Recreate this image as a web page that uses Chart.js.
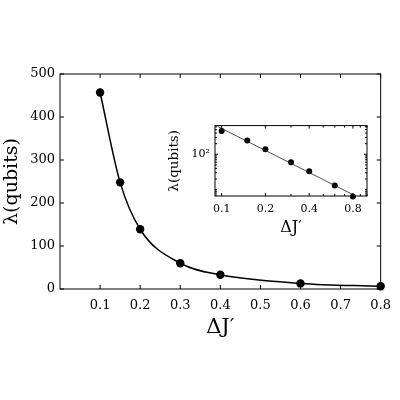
<!DOCTYPE html>
<html>
<head>
<meta charset="utf-8">
<script src="https://cdn.jsdelivr.net/npm/chart.js@4.4.1/dist/chart.umd.min.js"></script>
<style>
  html, body { margin: 0; padding: 0; background: #fff; }
  #wrap { position: relative; width: 400px; height: 400px; }
  #main { position: absolute; left: 0; top: 0; }
  #inset { position: absolute; left: 160px; top: 114px; }
</style>
</head>
<body>
<div id="wrap">
  <canvas id="main" width="400" height="400"></canvas>
  <canvas id="inset" width="215" height="130"></canvas>
</div>
<script>
// Datos
const deltaJ = [0.1, 0.15, 0.2, 0.3, 0.4, 0.6, 0.8];
const lambdaQubits = [457, 248, 139, 60, 33, 13, 6.4];

// Recta de ajuste del inset (log-log), extremos
const fitX = [0.094, 0.83];
const fitY = [614, 6.7];

// Ticks
const mainXTicks = [0.1, 0.2, 0.3, 0.4, 0.5, 0.6, 0.7, 0.8];
const mainYTicks = [0, 100, 200, 300, 400, 500];
const insetXTicks = [0.1, 0.2, 0.4, 0.8];
const insetXMinor = [0.3, 0.5, 0.6, 0.7, 0.9, 1.0];
const insetYTicks = [100];
const insetYMinor = [7, 8, 9, 10, 20, 30, 40, 50, 60, 70, 80, 90, 200, 300, 400, 500, 600];

const FONT = "'DejaVu Serif', serif";

// ===== Marco con ticks hacia adentro =====
const frameTicks = {
  id: "frameTicks",
  afterDraw(chart, args, opts) {
    const { ctx, chartArea: a, scales } = chart;
    ctx.save();
    ctx.strokeStyle = "#000";
    ctx.lineWidth = opts.lineWidth || 1;
    ctx.strokeRect(a.left, a.top, a.right - a.left, a.bottom - a.top);

    function line(x1, y1, x2, y2) {
      ctx.beginPath();
      ctx.moveTo(x1, y1);
      ctx.lineTo(x2, y2);
      ctx.stroke();
    }
    function mark(axis, values, len) {
      const s = scales[axis];
      values.forEach((v) => {
        const p = s.getPixelForValue(v);
        if (axis === "x") {
          if (p < a.left - 0.5 || p > a.right + 0.5) return;
          line(p, a.bottom, p, a.bottom - len);
          line(p, a.top, p, a.top + len);
        } else {
          if (p < a.top - 0.5 || p > a.bottom + 0.5) return;
          line(a.left, p, a.left + len, p);
          line(a.right, p, a.right - len, p);
        }
      });
    }
    mark("x", scales.x.ticks.map((t) => t.value), opts.major || 4);
    mark("y", scales.y.ticks.map((t) => t.value), opts.major || 4);
    mark("x", opts.minorX || [], opts.minor || 2);
    mark("y", opts.minorY || [], opts.minor || 2);
    ctx.restore();
  },
};

const whiteArea = {
  id: "whiteArea",
  beforeDraw(chart) {
    const { ctx, chartArea: a } = chart;
    ctx.save();
    ctx.fillStyle = "#fff";
    ctx.fillRect(a.left, a.top, a.right - a.left, a.bottom - a.top);
    ctx.restore();
  },
};

// ===== Grafico principal =====
new Chart(document.getElementById("main").getContext("2d"), {
  type: "line",
  data: {
    datasets: [
      {
        data: deltaJ.map((x, i) => ({ x, y: lambdaQubits[i] })),
        borderColor: "#000",
        borderWidth: 1.5,
        backgroundColor: "#000",
        pointRadius: 4.2,
        pointBorderWidth: 0,
        cubicInterpolationMode: "monotone",
        clip: false,
      },
    ],
  },
  plugins: [frameTicks],
  options: {
    responsive: false,
    animation: false,
    devicePixelRatio: 1,
    layout: { padding: { left: 0, top: 74, right: 10, bottom: 60 } },
    plugins: {
      legend: { display: false },
      tooltip: { enabled: false },
      frameTicks: { major: 4, lineWidth: 1 },
    },
    scales: {
      x: {
        type: "linear",
        min: 0,
        max: 0.8,
        afterBuildTicks: (s) => { s.ticks = mainXTicks.map((v) => ({ value: v })); },
        afterFit: (s) => { s.height = 51; },
        grid: { display: false, drawTicks: false },
        border: { display: false },
        ticks: {
          color: "#000",
          font: { family: FONT, size: 13 },
          padding: 9,
          maxRotation: 0,
          callback: (v) => Number(v).toFixed(1),
        },
        title: {
          display: true,
          text: "ΔJ′",
          color: "#000",
          font: { family: FONT, size: 21 },
          padding: { top: 4, bottom: 0 },
        },
      },
      y: {
        type: "linear",
        min: 0,
        max: 500,
        afterBuildTicks: (s) => { s.ticks = mainYTicks.map((v) => ({ value: v })); },
        afterFit: (s) => { s.width = 60; },
        grid: { display: false, drawTicks: false },
        border: { display: false },
        ticks: {
          color: "#000",
          font: { family: FONT, size: 13 },
          padding: 5,
        },
        title: {
          display: true,
          text: "λ(qubits)",
          color: "#000",
          font: { family: FONT, size: 19 },
          padding: { top: 1, bottom: 0 },
        },
      },
    },
  },
});

// ===== Inset log-log =====
new Chart(document.getElementById("inset").getContext("2d"), {
  type: "line",
  data: {
    datasets: [
      {
        data: fitX.map((x, i) => ({ x, y: fitY[i] })),
        borderColor: "#222",
        borderWidth: 0.8,
        pointRadius: 0,
      },
      {
        data: deltaJ.map((x, i) => ({ x, y: lambdaQubits[i] })),
        showLine: false,
        backgroundColor: "#000",
        pointRadius: 3,
        pointBorderWidth: 0,
        clip: false,
      },
    ],
  },
  plugins: [whiteArea, frameTicks],
  options: {
    responsive: false,
    animation: false,
    devicePixelRatio: 1,
    layout: { padding: { left: 0, top: 10, right: 8, bottom: 7 } },
    plugins: {
      legend: { display: false },
      tooltip: { enabled: false },
      frameTicks: { major: 3, minor: 2, lineWidth: 1, minorX: insetXMinor, minorY: insetYMinor },
    },
    scales: {
      x: {
        type: "logarithmic",
        min: 0.09,
        max: 1.0,
        afterBuildTicks: (s) => { s.ticks = insetXTicks.map((v) => ({ value: v })); },
        afterFit: (s) => { s.height = 41; },
        grid: { display: false, drawTicks: false },
        border: { display: false },
        ticks: {
          color: "#000",
          font: { family: FONT, size: 11 },
          padding: 7,
          maxRotation: 0,
          callback: (v) => Number(v).toFixed(1),
        },
        title: {
          display: true,
          text: "ΔJ′",
          color: "#000",
          font: { family: FONT, size: 16 },
          padding: { top: 2, bottom: 0 },
        },
      },
      y: {
        type: "logarithmic",
        min: 6.6,
        max: 650,
        afterBuildTicks: (s) => { s.ticks = insetYTicks.map((v) => ({ value: v })); },
        afterFit: (s) => { s.width = 55; },
        grid: { display: false, drawTicks: false },
        border: { display: false },
        ticks: {
          color: "#000",
          font: { family: FONT, size: 11 },
          padding: 5,
          callback: () => "10²",
        },
        title: {
          display: true,
          text: "λ(qubits)",
          color: "#000",
          font: { family: FONT, size: 13.5 },
          padding: { top: 6, bottom: 0 },
        },
      },
    },
  },
});
</script>
</body>
</html>
